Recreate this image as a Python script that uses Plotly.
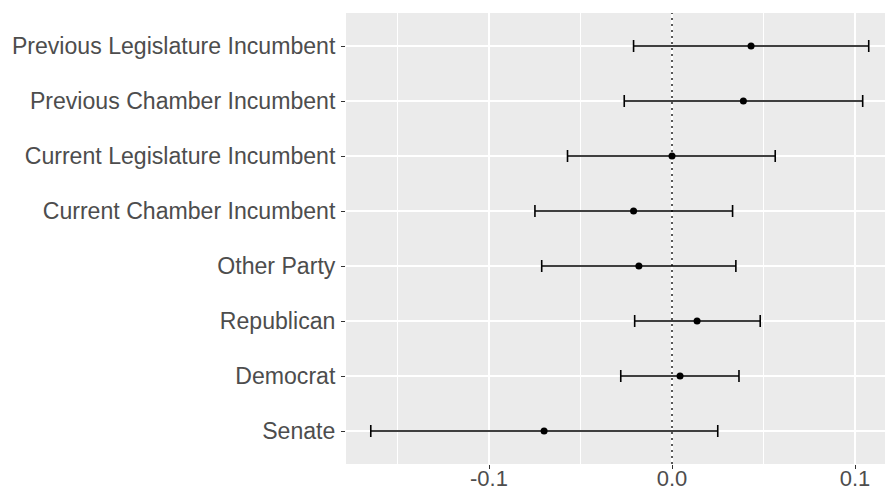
import plotly.graph_objects as go

categories = ["Senate", "Democrat", "Republican", "Other Party",
              "Current Chamber Incumbent", "Current Legislature Incumbent",
              "Previous Chamber Incumbent", "Previous Legislature Incumbent"]
estimates = [-0.0699, 0.0044, 0.0137, -0.0181, -0.0210, 0.0000, 0.0390, 0.0432]
lower = [-0.1646, -0.0280, -0.0204, -0.0712, -0.0749, -0.0571, -0.0261, -0.0210]
upper = [0.0250, 0.0366, 0.0482, 0.0349, 0.0331, 0.0564, 0.1042, 0.1075]
x_ticks = [-0.1, 0.0, 0.1]
x_tick_labels = ["-0.1", "0.0", "0.1"]
x_minor = [-0.15, -0.05, 0.05]

ypos = list(range(1, len(categories) + 1))
err_plus = [u - e for u, e in zip(upper, estimates)]
err_minus = [e - l for e, l in zip(estimates, lower)]

fig = go.Figure()
fig.add_trace(go.Scatter(
    x=estimates, y=ypos, mode="markers",
    marker=dict(color="black", size=7),
    error_x=dict(type="data", symmetric=False, array=err_plus, arrayminus=err_minus,
                 color="black", thickness=1.6, width=6),
    showlegend=False, hoverinfo="skip"))

# dotted reference line at zero
fig.add_shape(type="line", xref="x", yref="paper", x0=0, x1=0, y0=0, y1=1,
              line=dict(color="black", width=1.3, dash="2px,4px"), layer="above")

font_family = "Liberation Sans, Arial, sans-serif"
fig.update_layout(
    width=885, height=492,
    margin=dict(l=346, r=0, t=13, b=28, autoexpand=False),
    paper_bgcolor="white", plot_bgcolor="#EBEBEB",
    font=dict(family=font_family, color="#4D4D4D", size=22),
    xaxis=dict(range=[-0.17814, 0.11639], tickvals=x_ticks, ticktext=x_tick_labels,
               showgrid=True, gridcolor="white", gridwidth=1.6, zeroline=False,
               ticks="outside", ticklen=4, tickcolor="#333333", tickwidth=1.1,
               tickfont=dict(size=22, color="#4D4D4D"), automargin=False,
               ticklabelstandoff=-9,
               minor=dict(tickvals=x_minor, showgrid=True, gridcolor="white", gridwidth=0.9, ticks=""),
               showline=False, fixedrange=True),
    yaxis=dict(range=[0.4, 8.6], tickvals=ypos, ticktext=categories,
               showgrid=True, gridcolor="white", gridwidth=1.6, zeroline=False,
               ticks="outside", ticklen=4, tickcolor="#333333", tickwidth=1.1,
               tickfont=dict(size=23.1, color="#4D4D4D"), automargin=False,
               ticklabelstandoff=1,
               showline=False, fixedrange=True),
)

fig.write_html("out.html")
